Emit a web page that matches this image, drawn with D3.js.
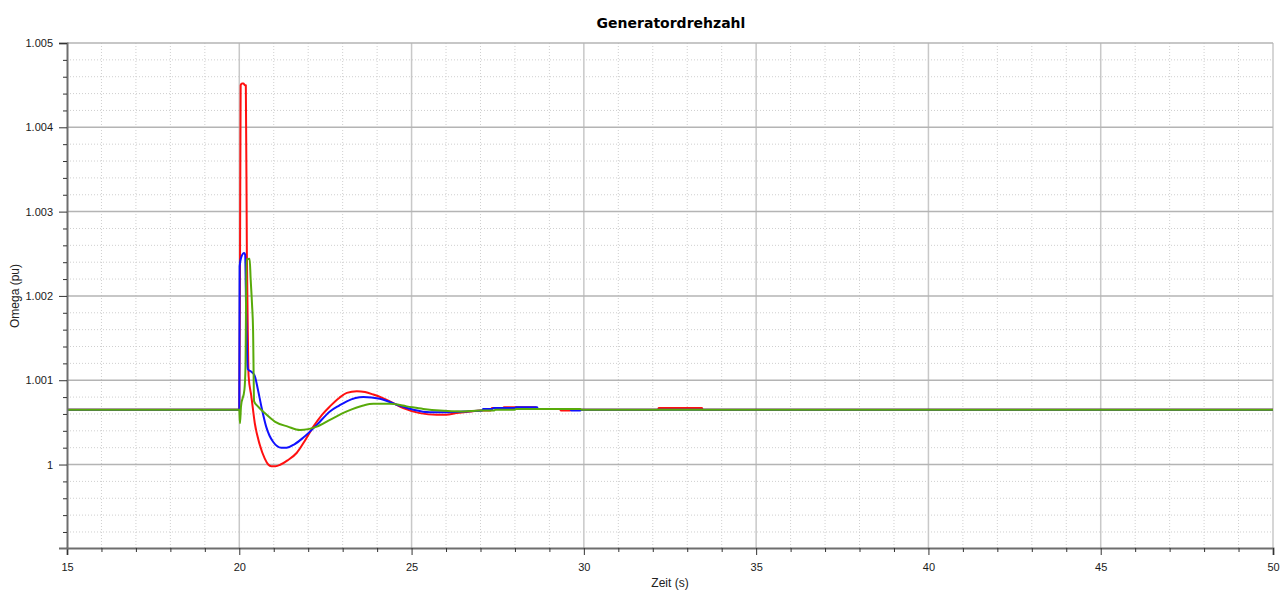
<!DOCTYPE html>
<meta charset='utf-8'>
<style>
  body { margin: 0; background: #fff; }
  svg { display: block; font-family: 'Liberation Sans', 'DejaVu Sans', sans-serif; }
</style>
<div id='chart'></div>
<script src='https://d3js.org/d3.v7.min.js'></script>
<script>

  // tick values / labels
  var xTicks = [15, 20, 25, 30, 35, 40, 45, 50];
  var yTicks = [1, 1.001, 1.002, 1.003, 1.004, 1.005];
  var yTickLabels = ['1', '1.001', '1.002', '1.003', '1.004', '1.005'];

  // red series (time s, omega pu)
  var redT = [15, 20.0, 20.02, 20.04, 20.08, 20.12, 20.16, 20.19, 20.22, 20.25, 20.27, 20.35, 20.45, 20.59, 20.74, 20.84, 20.93, 21.05, 21.2, 21.4, 21.67, 21.9, 22.15, 22.4, 22.63, 22.9, 23.12, 23.41, 23.65, 23.89, 24.15, 24.37, 24.76, 25.24, 25.73, 26.0, 26.31, 26.7, 27.0, 27.3, 27.33, 27.65, 27.68, 28.6, 28.63, 29.3, 29.33, 29.6, 29.63, 32.15, 32.17, 33.43, 33.45, 50];
  var redV = [1.00065, 1.00065, 1.0022, 1.0045, 1.00452, 1.00452, 1.0045, 1.0045, 1.0025, 1.0015, 1.00105, 1.00081, 1.00049, 1.00024, 1.00007, 1.0, 0.99998, 0.99998, 1.0, 1.00005, 1.00014, 1.00028, 1.00045, 1.00059, 1.00069, 1.00079, 1.00085, 1.00087, 1.00086, 1.00083, 1.00079, 1.00075, 1.00067, 1.00061, 1.00059, 1.00059, 1.00061, 1.00063, 1.00064, 1.00064, 1.00067, 1.00067, 1.00068, 1.00068, 1.00066, 1.00066, 1.00064, 1.00064, 1.00065, 1.00065, 1.00067, 1.00067, 1.00065, 1.00065];

  // blue series
  var blueT = [15, 20.0, 20.01, 20.05, 20.14, 20.17, 20.2, 20.24, 20.25, 20.35, 20.45, 20.54, 20.64, 20.78, 20.98, 21.22, 21.37, 21.6, 21.86, 22.25, 22.63, 22.9, 23.12, 23.6, 24.08, 24.57, 25.05, 25.53, 26.02, 26.5, 27.05, 27.08, 27.35, 27.38, 28.0, 28.03, 28.64, 28.67, 29.6, 29.63, 29.9, 29.93, 50];
  var blueV = [1.00065, 1.00065, 1.00235, 1.00245, 1.00251, 1.00249, 1.0018, 1.00116, 1.00113, 1.0011, 1.00105, 1.00089, 1.00069, 1.00045, 1.00027, 1.0002, 1.0002, 1.00024, 1.00032, 1.00047, 1.00063, 1.0007, 1.00075, 1.0008, 1.00078, 1.00071, 1.00065, 1.00062, 1.00062, 1.00063, 1.00064, 1.00066, 1.00066, 1.00067, 1.00067, 1.00068, 1.00068, 1.00066, 1.00066, 1.00064, 1.00064, 1.00065, 1.00065];

  // green series
  var greenT = [15, 20.0, 20.02, 20.05, 20.15, 20.18, 20.21, 20.3, 20.33, 20.37, 20.4, 20.43, 20.54, 20.74, 21.03, 21.41, 21.76, 22.0, 22.25, 22.63, 23.12, 23.6, 23.89, 24.37, 24.86, 25.34, 25.82, 26.5, 27.0, 27.4, 27.43, 28.0, 28.03, 29.9, 29.93, 50];
  var greenV = [1.00065, 1.00065, 1.00049, 1.00069, 1.00089, 1.00116, 1.00243, 1.00244, 1.0022, 1.0019, 1.0016, 1.00075, 1.00069, 1.00061, 1.00051, 1.00045, 1.00041, 1.00042, 1.00045, 1.00053, 1.00063, 1.0007, 1.00072, 1.00072, 1.00069, 1.00066, 1.00064, 1.00063, 1.00064, 1.00064, 1.00065, 1.00065, 1.00066, 1.00066, 1.00065, 1.00065];

  var W = 1282, H = 590;
  var plotL = 67, plotR = 1273, plotT = 43, plotB = 548;

  var svg = d3.select('#chart')
    .append('svg')
      .attr('width', W)
      .attr('height', H);

  var x = d3.scaleLinear().domain([15, 50]).range([plotL, plotR]);
  var y = d3.scaleLinear().domain([0.99901, 1.005]).range([plotB, plotT]);

  var xMinor = d3.range(15, 50.01, 1).filter(function (d) { return d % 5 !== 0; });
  var yMinor = d3.range(0, 30).map(function (i) { return 0.9992 + i * 0.0002; })
    .filter(function (d) { return d < 1.005 && Math.abs(Math.round(d * 1000) - d * 1000) > 1e-6; });

  // minor grid (dotted)
  var grid = svg.append('g');
  grid.selectAll('.vx').data(xMinor).enter().append('line')
    .attr('x1', function (d) { return x(d); }).attr('x2', function (d) { return x(d); })
    .attr('y1', plotT).attr('y2', plotB)
    .attr('stroke', '#cfcfcf').attr('stroke-dasharray', '1,2');
  grid.selectAll('.hy').data(yMinor).enter().append('line')
    .attr('y1', function (d) { return y(d); }).attr('y2', function (d) { return y(d); })
    .attr('x1', plotL).attr('x2', plotR)
    .attr('stroke', '#cfcfcf').attr('stroke-dasharray', '1,2');

  // major grid
  grid.selectAll('.mx').data(xTicks.slice(1)).enter().append('line')
    .attr('x1', function (d) { return x(d); }).attr('x2', function (d) { return x(d); })
    .attr('y1', plotT).attr('y2', plotB)
    .attr('stroke', '#c8c8c8').attr('stroke-width', 1.5);
  grid.selectAll('.my').data(yTicks).enter().append('line')
    .attr('y1', function (d) { return y(d); }).attr('y2', function (d) { return y(d); })
    .attr('x1', plotL).attr('x2', plotR)
    .attr('stroke', '#b4b4b4').attr('stroke-width', 1.5);

  // series
  var line = d3.line()
    .curve(d3.curveMonotoneX)
    .x(function (d) { return x(d[0]); })
    .y(function (d) { return y(d[1]); });

  function pairs(t, v) { return t.map(function (d, i) { return [d, v[i]]; }); }

  var series = [
    { data: pairs(redT, redV), color: '#ff1010' },
    { data: pairs(blueT, blueV), color: '#1010ff' },
    { data: pairs(greenT, greenV), color: '#58aa0a' }
  ];

  svg.append('g').selectAll('path').data(series).enter().append('path')
    .attr('d', function (d) { return line(d.data); })
    .attr('fill', 'none')
    .attr('stroke', function (d) { return d.color; })
    .attr('stroke-width', 2)
    .attr('stroke-linejoin', 'round');

  // axes
  svg.append('g')
    .attr('transform', 'translate(0,' + plotB + ')')
    .call(d3.axisBottom(x).tickValues(xTicks).tickSize(7).tickPadding(8).tickFormat(d3.format('d')));
  svg.append('g')
    .attr('transform', 'translate(0,' + plotB + ')')
    .call(d3.axisBottom(x).tickValues(xMinor).tickSize(4).tickFormat(''))
    .select('.domain').remove();

  svg.append('g')
    .attr('transform', 'translate(' + plotL + ',0)')
    .call(d3.axisLeft(y).tickValues(yTicks).tickSize(8).tickPadding(6)
      .tickFormat(function (d, i) { return yTickLabels[i]; }));
  svg.append('g')
    .attr('transform', 'translate(' + plotL + ',0)')
    .call(d3.axisLeft(y).tickValues(yMinor).tickSize(4).tickFormat(''))
    .select('.domain').remove();

  svg.selectAll('.domain').attr('stroke', '#6e6e6e').attr('stroke-width', 2);
  svg.selectAll('.tick line').attr('stroke', '#333');
  svg.selectAll('.tick text')
    .attr('fill', '#1a1a1a')
    .style('font-size', '11px')
    .style('font-family', "'Liberation Sans', sans-serif");

  // titles
  svg.append('text')
    .attr('x', 671).attr('y', 28)
    .attr('text-anchor', 'middle')
    .style('font-size', '14px')
    .style('font-weight', 'bold')
    .style('font-family', "'DejaVu Sans', sans-serif")
    .text('Generatordrehzahl');

  svg.append('text')
    .attr('x', 670).attr('y', 587)
    .attr('text-anchor', 'middle')
    .style('font-size', '12px')
    .attr('fill', '#222')
    .text('Zeit (s)');

  svg.append('text')
    .attr('transform', 'translate(19,' + 296 + ') rotate(-90)')
    .attr('text-anchor', 'middle')
    .style('font-size', '12px')
    .attr('fill', '#222')
    .text('Omega (pu)');

</script>
